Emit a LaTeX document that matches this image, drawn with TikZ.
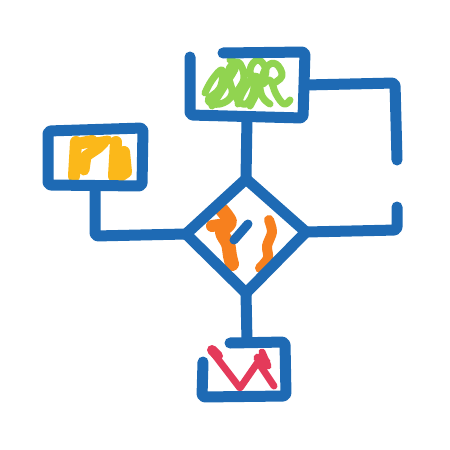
\documentclass[tikz,border=0pt]{standalone}
\begin{document}
\begin{tikzpicture}[x=1pt,y=-1pt,
  ink/.style={line width=11pt,line cap=round,line join=round,draw=blueink,rounded corners=3pt},
  scrib/.style={line width=#1,line cap=round,line join=round},
  scrib/.default=9pt]
\definecolor{blueink}{RGB}{30,106,180}
\definecolor{greenink}{RGB}{145,212,80}
\definecolor{yellowink}{RGB}{251,184,26}
\definecolor{orangeink}{RGB}{247,128,30}
\definecolor{redink}{RGB}{228,58,90}
\useasboundingbox[fill=white] (0,0) rectangle (450,450);
% named points
\coordinate (dT) at (246,179);
\coordinate (dR) at (306,232);
\coordinate (dB) at (246,293);
\coordinate (dL) at (186,234);
\coordinate (tB) at (247,118);
\coordinate (tR) at (305,85);
\coordinate (lB) at (95,186);
\coordinate (bT) at (247,342);
\coordinate (e1) at (397,160);
\coordinate (e2) at (397,207);
% green scribble in top box
\draw[scrib=7pt,greenink] plot[smooth,tension=0.7] coordinates {
 (205,93) (212,80) (222,70) (220,88) (208,100) (220,104) (232,94)
 (228,72) (238,62) (244,78) (236,96) (246,104) (254,88) (250,70)
 (258,60) (266,70) (262,84) (270,80) (276,94) (284,104) (290,100)};
\draw[scrib=7pt,greenink] plot[smooth,tension=0.7] coordinates {
 (212,106) (226,84) (236,66) (230,60)};
\draw[scrib=7pt,greenink] plot[smooth,tension=0.7] coordinates {
 (250,106) (258,90) (266,68) (276,64) (282,76) (272,84)};
\draw[scrib=7pt,greenink] plot[smooth,tension=0.7] coordinates {
 (238,104) (244,90) (256,76) (262,96) (270,104)};
% yellow in left box
\draw[scrib=12pt,yellowink] (76,142) -- (74,176);
\draw[scrib=12pt,yellowink] (82,143) -- (92,141);
\draw[scrib=11pt,yellowink] (84,170) -- (86,156) -- (98,148) -- (104,142);
\draw[scrib=12pt,yellowink] (116,142) -- (114,176);
\draw[scrib=12pt,yellowink] (124,152) -- (126,172) -- (120,176);
\draw[scrib=9pt,yellowink] (96,142) -- (108,140);
% orange in diamond
\draw[scrib=14pt,orangeink] plot[smooth] coordinates {(222,210) (230,222) (222,232) (228,244) (230,256) (232,264)};
\draw[scrib=12pt,orangeink] (212,226) -- (226,224);
\draw[scrib=10pt,orangeink] plot[smooth] coordinates {(269,220) (272,232) (267,246) (268,258) (260,268)};
\draw[scrib=9pt,blueink] (248,224) -- (234,240);
% red in bottom box
\draw[scrib=7pt,redink] (214,354) -- (240,388) -- (258,362) -- (274,386);
\draw[scrib=10pt,redink] (212,350) -- (218,356);
\draw[scrib=9pt,redink] (258,358) -- (266,362);
\draw[scrib=7pt,redink] (262,352) -- (268,366);
% top box
\draw[ink] (190,57) -- (190,115) -- (303,118) -- (305,52) -- (223,53);
% left box
\draw[ink] (48,131) -- (143,128) -- (142,186) -- (48,185) -- cycle;
% bottom box
\draw[ink] (230,343) -- (285,342) -- (286,396) -- (202,397) -- (203,362);
% diamond
\draw[ink,rounded corners=0pt] (dT) -- (dR) -- (dB) -- (dL) -- cycle;
% connectors
\draw[ink] (tB) -- (dT);
\draw[ink] (dB) -- (bT);
\draw[ink] (dL) -- (95,236) -- (lB);
\draw[ink] (tR) -- (395,83) -- (e1);
\draw[ink] (e2) -- (397,230) -- (dR);
\end{tikzpicture}
\end{document}
